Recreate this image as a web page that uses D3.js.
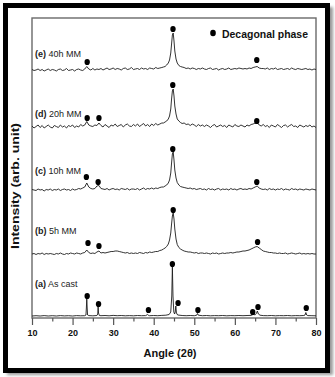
<!DOCTYPE html>
<html>
<head>
<meta charset="utf-8">
<script src="https://cdn.jsdelivr.net/npm/d3@7"></script>
<style>
  html, body { margin: 0; padding: 0; background: #fff; }
  svg { display: block; }
  text { font-family: "Liberation Sans", Arial, sans-serif; }
</style>
</head>
<body>
<svg id="chart" width="335" height="377"></svg>
<script>
// ---------- DATA ----------
const xTicks = [10, 20, 30, 40, 50, 60, 70, 80];
const xMinorTicks = [15, 25, 35, 45, 55, 65, 75];

// sampling grid (2θ) for milled samples
const angles = [10,10.5,11,11.5,12,12.5,13,13.5,14,14.5,
15,15.5,16,16.5,17,17.5,18,18.5,19,19.5,
20,20.5,21,21.5,22,22.5,23,23.5,24,24.5,
25,25.5,26,26.5,27,27.5,28,28.5,29,29.5,
30,30.5,31,31.5,32,32.5,33,33.5,34,34.5,
35,35.5,36,36.5,37,37.5,38,38.5,39,39.5,
40,40.5,41,41.5,42,
42.4,42.8,43.2,43.6,43.9,44.2,44.4,44.6,44.8,45.0,45.2,45.5,45.8,46.2,46.6,47.0,
47.5,48,48.5,49,49.5,50,50.5,51,51.5,52,
52.5,53,53.5,54,54.5,55,55.5,56,56.5,57,
57.5,58,58.5,59,59.5,60,60.5,61,61.5,62,
62.5,63,63.5,64,64.5,65,65.5,66,66.5,67,
67.5,68,68.5,69,69.5,70,70.5,71,71.5,72,
72.5,73,73.5,74,74.5,75,75.5,76,76.5,77,
77.5,78,78.5,79,79.5,80];

const intensityE = [0.5,-0.5,0,1,-0.5,0.5,-1,0,1,-0.5,
0.5,0,-1,0.5,1,-0.5,0,1.5,-0.5,0,
0.5,-1,0.5,1,0,-0.5,1,3.5,1,0,
1.5,0,1,0.5,1.5,0,1,2,0.5,1,
2,0.5,1.5,1,0,1.5,2,0.5,1,2.5,
0.5,1,1.5,0.5,2,1,1.5,0.5,2,1.5,
1,2.5,1.5,2,2.5,
3,3.5,5,7,10,17,26,35,37,29,19,11,7,4.5,3.5,3,
2.5,1.5,2,1,2,1.5,0.5,1.5,1,2,
1,0.5,1.5,2,0.5,1,1.5,0,1,1.5,
0.5,1,2,0.5,1,1.5,1,2,1.5,1,
1.5,1,2,1.5,2.5,3,3.5,2,1.5,1.5,
1,2,0.5,1.5,1,2,0.5,1,1.5,0.5,
1,1.5,0.5,2,1,0.5,1.5,1,0.5,1,
1.5,0.5,1,0,1,0.5];

const intensityD = [1,-1,0.5,2,-0.5,1.5,-1,0.5,2,0,
-1,1.5,0.5,-0.5,2,0,1,-1,1.5,0.5,
2,-0.5,1,0,2.5,1,2,5.5,2,1,
0.5,2,1.5,4,1.5,0,2.5,1,-0.5,2,
1,3,0.5,1.5,2.5,0,2,3,1,0.5,
2.5,1,3,0.5,2,3.5,1,2.5,0.5,3,
1.5,3.5,2,3,4,
4,5,6,8,11,18,28,36,38,31,21,13,8,6,4.5,3.5,
4,2.5,3,1.5,3,2,0.5,2.5,1,2,
0.5,2,1,-0.5,1.5,2.5,0,1,2,0.5,
1.5,-0.5,2,1,0,2.5,1,0.5,2,1,
0,2,1,2.5,3,4,4.5,2,1,2.5,
0.5,1.5,-0.5,2,1,0,2.5,1,-0.5,1.5,
2,0,1.5,2.5,0.5,1,-0.5,2,1,0,
1.5,0.5,2,0,1,-0.5];

const intensityC = [0.5,0,-0.5,1,0,0.5,-1,0.5,0,1,
-0.5,0.5,0,1,-0.5,0.5,1,0,0.5,-0.5,
1,0,0.5,1.5,1,2,3,7,3,1.5,
1,1.5,4,4.5,1.5,1,0.5,1.5,0,1,
1.5,0.5,1,0,1.5,1,0.5,1.5,0,1,
1,0.5,1.5,0,1,2,0.5,1.5,1,2,
1,2,1.5,2.5,3,
3,4,5,7,10,17,27,36,38,30,20,12,7.5,5,3.5,3,
2.5,2,1.5,2,1,1.5,0.5,1,1.5,0.5,
1,0,1.5,0.5,1,0,1,1.5,0,1,
0.5,1,0,1.5,0.5,1,0,1,1.5,0.5,
1,0.5,1.5,1,2,3,4,2,1,0.5,
1,0,1.5,0.5,1,0,1,0.5,1.5,0,
1,0.5,0,1.5,0.5,1,0,1,0.5,0,
1,0.5,0,1,0.5,0];

const intensityB = [0,0.5,-0.5,0.5,0,1,-0.5,0.5,0,0.5,
0,-0.5,0.5,0,1,0,-0.5,0.5,0,1,
0.5,0,1,0.5,0,1,1.5,4,1.5,0.5,
1,0.5,2,3,1,1.5,1,1.5,2,2.5,
2.5,3,3,2.5,2,1.5,1,1.5,0.5,1,
0.5,1,0.5,1.5,1,0.5,1.5,1,2,1.5,
2,2.5,2.5,3.5,4,
5,6,7.5,10,14,21,30,38,41,35,25,15,9.5,6.5,5,4,
3,2.5,2,2,1.5,1,1.5,0.5,1,1,
0.5,1,0.5,0,1,0.5,1,0,0.5,1,
0.5,1,1,1.5,1,1.5,2,2,2.5,3,
3,3.5,4,5,6,7,7.5,6,4.5,3,
2.5,2,1.5,1.5,1,1,0.5,1,0.5,0.5,
1,0,0.5,1,0.5,0,0.5,1,0,0.5,
0,0.5,0,0.5,0,0];

// as-cast sample: own grid (sharp peaks)
const anglesA = [10,11,12,13,14,15,16,17,18,19,20,21,22,23,23.3,23.4,23.5,23.6,23.7,24,25,26,26.2,26.3,26.4,26.6,27,28,29,30,31,32,33,34,35,36,37,38,38.5,38.8,39,40,41,42,43,43.8,44.2,44.45,44.6,44.75,44.95,45.15,45.3,45.45,45.6,45.9,47,48,49,50,50.6,50.8,51.0,52,53,54,55,56,57,58,59,60,61,62,63,64,64.5,65,65.3,65.55,65.8,66.2,67,68,69,70,71,72,73,74,75,76,77,77.3,77.5,77.7,78,79,80];
const intensityA = [0,0.3,0,0.4,0,0.3,0,0.4,0.1,0.3,0,0.4,0.2,0.3,1,8,17,8,1,0.4,0.2,0.5,2,9,3,0.5,0.3,0.5,0.2,0.6,0.3,0.5,0.2,0.4,0.2,0.5,0.3,0.4,1.5,0.4,0.3,0.5,0.3,0.6,0.8,1.5,4,20,49,20,4,2,4,10,3,1,0.5,0.3,0.5,0.3,0.8,2.5,0.8,0.3,0.5,0.2,0.4,0.3,0.5,0.2,0.4,0.3,0.5,0.3,0.5,0.6,1.5,1.2,2.5,5,2,0.8,0.4,0.3,0.5,0.2,0.4,0.3,0.5,0.2,0.4,0.3,0.5,1,3.5,1,0.4,0.3,0.2];

// vertical offsets of the stacked patterns
const seriesNames = ["a", "b", "c", "d", "e"];
const seriesOffsets = [2, 64, 128, 191, 248];
const seriesLabelsBold = ["(a)", "(b)", "(c)", "(d)", "(e)"];
const seriesLabelsText = [" As cast", " 5h MM", " 10h MM", " 20h MM", " 40h MM"];
const labelLevels = [35, 88, 148, 205, 265];

// decagonal phase markers [2θ, height above baseline]
const markersA = [[23.6,20],[26.4,12],[38.7,6],[44.6,52],[46.0,13],[50.9,6],[64.4,4],[65.7,9],[77.6,8]];
const markersB = [[23.8,11],[26.5,8],[44.8,44],[65.6,12]];
const markersC = [[23.4,13],[26.3,8],[44.7,41],[65.4,8]];
const markersD = [[23.6,9],[26.5,9],[44.7,42],[65.4,6]];
const markersE = [[23.6,8],[44.75,41],[65.4,10]];

const legendText = "Decagonal phase";
const xTitle = "Angle (2θ)";
const yTitle = "Intensity (arb. unit)";

// ---------- DRAW ----------
const svg = d3.select("#chart");
const defs = svg.append("defs");
const f = defs.append("filter").attr("id", "shadow").attr("x", "-5%").attr("y", "-5%").attr("width", "115%").attr("height", "115%");
f.append("feGaussianBlur").attr("stdDeviation", 1.6);

// shadow + frame
svg.append("rect").attr("x", 7).attr("y", 7).attr("width", 326).attr("height", 368)
  .attr("fill", "#9a9a9a").attr("filter", "url(#shadow)");
svg.append("rect").attr("x", 5.5).attr("y", 5.5).attr("width", 322).attr("height", 365)
  .attr("fill", "#fff").attr("stroke", "#000").attr("stroke-width", 5);

const x = d3.scaleLinear().domain([10, 80]).range([32, 316]);
const y = d3.scaleLinear().domain([0, 300]).range([318, 18]);

// plot box
svg.append("rect").attr("x", x(10)).attr("y", y(300)).attr("width", x(80) - x(10)).attr("height", y(0) - y(300))
  .attr("fill", "none").attr("stroke", "#6a6a6a").attr("stroke-width", 1.4);

// axes
const gx = svg.append("g").attr("transform", `translate(0,${y(0)})`)
  .call(d3.axisBottom(x).tickValues(xTicks).tickSize(7).tickPadding(5).tickFormat(d3.format("d")));
gx.select(".domain").remove();
gx.selectAll(".tick line").attr("stroke", "#555").attr("stroke-width", 1.2);
gx.selectAll(".tick text").attr("font-size", 9).attr("font-weight", "bold").attr("fill", "#111")
  .style("font-family", "'Liberation Sans', Arial, sans-serif");
const gm = svg.append("g").attr("transform", `translate(0,${y(0)})`)
  .call(d3.axisBottom(x).tickValues(xMinorTicks).tickSize(3.5).tickFormat(""));
gm.select(".domain").remove();
gm.selectAll(".tick line").attr("stroke", "#555").attr("stroke-width", 1.2);

// traces
const line = d3.line().x(d => x(d[0])).y(d => y(d[1]));
const traces = [
  d3.zip(anglesA, intensityA),
  d3.zip(angles, intensityB),
  d3.zip(angles, intensityC),
  d3.zip(angles, intensityD),
  d3.zip(angles, intensityE)
];
const markers = [markersA, markersB, markersC, markersD, markersE];

traces.forEach((tr, i) => {
  const off = seriesOffsets[i];
  svg.append("path")
    .datum(tr.map(d => [d[0], d[1] + off]))
    .attr("d", line)
    .attr("fill", "none")
    .attr("stroke", "#1c1c1c")
    .attr("stroke-width", 0.9)
    .attr("stroke-linejoin", "round");
  svg.selectAll(null).data(markers[i]).join("ellipse")
    .attr("cx", d => x(d[0]))
    .attr("cy", d => y(d[1] + off))
    .attr("rx", 2.7).attr("ry", 3.1)
    .attr("fill", "#000");
  const t = svg.append("text")
    .attr("x", 35)
    .attr("y", y(labelLevels[i]) + 3.5)
    .attr("font-size", 9)
    .attr("fill", "#222");
  t.append("tspan").attr("font-weight", "bold").text(seriesLabelsBold[i]);
  t.append("tspan").text(seriesLabelsText[i]);
});

// legend
svg.append("ellipse").attr("cx", 213).attr("cy", 33).attr("rx", 2.8).attr("ry", 3.2).attr("fill", "#000");
svg.append("text").attr("x", 222).attr("y", 37.5).attr("font-size", 11.5).attr("font-weight", "bold")
  .attr("textLength", 86).attr("lengthAdjust", "spacingAndGlyphs").attr("fill", "#111").text(legendText);

// axis titles
svg.append("text").attr("x", 170).attr("y", 357).attr("text-anchor", "middle")
  .attr("font-size", 11).attr("font-weight", "bold").attr("fill", "#111").text(xTitle);
svg.append("text").attr("transform", "translate(19,186) rotate(-90)").attr("text-anchor", "middle")
  .attr("font-size", 11).attr("font-weight", "bold").attr("fill", "#111")
  .attr("textLength", 126).attr("lengthAdjust", "spacingAndGlyphs").text(yTitle);
</script>
</body>
</html>
